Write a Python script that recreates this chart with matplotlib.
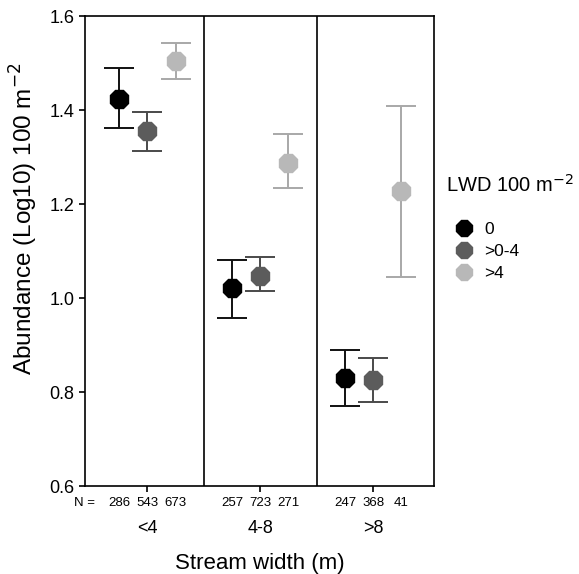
import numpy as np
import matplotlib
matplotlib.use("Agg")
import matplotlib.pyplot as plt

plt.rcParams['font.family'] = ['Liberation Sans', 'DejaVu Sans']

# Data
widths = ['<4', '4-8', '>8']
lwd_classes = ['0', '>0-4', '>4']
means = {
    '0':    [1.423, 1.022, 0.830],
    '>0-4': [1.355, 1.048, 0.826],
    '>4':   [1.504, 1.288, 1.227],
}
lower = {
    '0':    [1.362, 0.957, 0.770],
    '>0-4': [1.313, 1.015, 0.780],
    '>4':   [1.466, 1.235, 1.044],
}
upper = {
    '0':    [1.490, 1.082, 0.890],
    '>0-4': [1.396, 1.088, 0.873],
    '>4':   [1.542, 1.349, 1.408],
}
counts = {
    '0':    [286, 257, 247],
    '>0-4': [543, 723, 368],
    '>4':   [673, 271, 41],
}

face_colors = {'0': '#000000', '>0-4': '#5c5c5c', '>4': '#b8b8b8'}
bar_colors = {'0': '#111111', '>0-4': '#4a4a4a', '>4': '#a8a8a8'}
offsets = {'0': -0.25, '>0-4': 0.0, '>4': 0.25}

fig = plt.figure(figsize=(5.79, 5.74), dpi=100)
ax = fig.add_axes([0.147, 0.153, 0.603, 0.819])

x = np.arange(1, len(widths) + 1)
for cls in lwd_classes:
    m = np.array(means[cls])
    lo = m - np.array(lower[cls])
    hi = np.array(upper[cls]) - m
    ax.errorbar(x + offsets[cls], m, yerr=[lo, hi], fmt='none',
                ecolor=bar_colors[cls], elinewidth=1.4, capsize=11,
                capthick=1.4, zorder=2)
    ax.plot(x + offsets[cls], m, linestyle='none', marker='8', markersize=14.5,
            markerfacecolor=face_colors[cls], markeredgecolor=face_colors[cls],
            label=cls, zorder=3)

# panel dividers
for d in [1.5, 2.5]:
    ax.axvline(d, color='black', linewidth=1.2)

ax.set_xlim(0.45, 3.54)
ax.set_ylim(0.6, 1.6)
ax.set_yticks([0.6, 0.8, 1.0, 1.2, 1.4, 1.6])
ax.set_yticklabels(['0.6', '0.8', '1.0', '1.2', '1.4', '1.6'], fontsize=13)
ax.set_xticks(x)
ax.set_xticklabels([])
ax.tick_params(axis='both', direction='out', length=4, width=1.2)
for s in ax.spines.values():
    s.set_linewidth(1.2)

# N counts under each point
for i, xi in enumerate(x):
    for cls in lwd_classes:
        ax.text(xi + offsets[cls], -0.035, str(counts[cls][i]), transform=ax.get_xaxis_transform(),
                ha='center', va='center', fontsize=9.5)
    ax.text(xi, -0.09, widths[i], transform=ax.get_xaxis_transform(),
            ha='center', va='center', fontsize=13)
ax.text(0.54, -0.035, 'N =', transform=ax.get_xaxis_transform(),
        ha='right', va='center', fontsize=9.5)

ax.text(2.0, -0.165, 'Stream width (m)', transform=ax.get_xaxis_transform(),
        ha='center', va='center', fontsize=16)
ax.set_ylabel('Abundance (Log10) 100 m$^{-2}$', fontsize=17.5)
ax.yaxis.set_label_coords(-0.13, 0.57)

# legend title drawn separately for the larger gap
ax.text(1.035, 0.64, 'LWD 100 m$^{-2}$', transform=ax.transAxes,
        ha='left', va='center', fontsize=14.5)
ax.legend(loc='center left', bbox_to_anchor=(1.0, 0.5),
          frameon=False, fontsize=12.5, handletextpad=0.2,
          markerscale=0.85, borderaxespad=0.3, labelspacing=0.4)

fig.savefig('out.png', dpi=100)
